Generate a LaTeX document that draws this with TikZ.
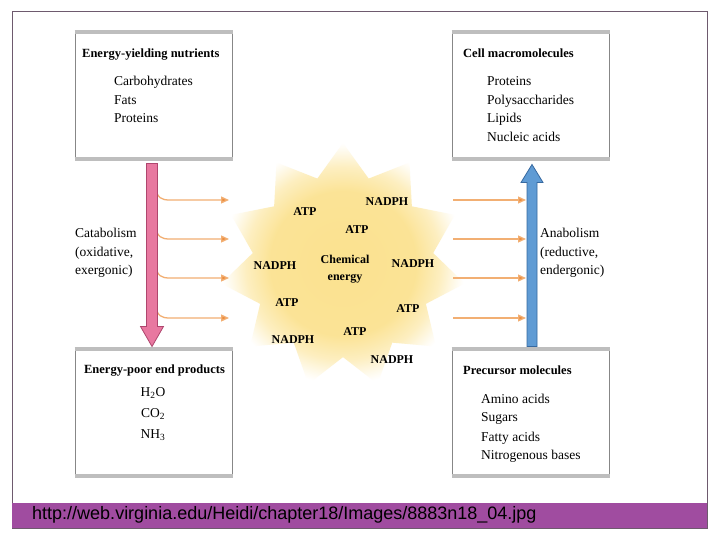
\documentclass[tikz,border=0pt]{standalone}
\usepackage{fontspec}
\setmainfont{Liberation Serif}
\newfontfamily\urlfont{Liberation Sans}
\usetikzlibrary{shapes.geometric,arrows.meta,calc}
\definecolor{purplebar}{RGB}{160,76,160}
\definecolor{framecol}{RGB}{110,90,110}
\definecolor{boxedge}{RGB}{190,190,190}
\definecolor{boxside}{RGB}{135,135,135}
\definecolor{catfill}{RGB}{232,120,160}
\definecolor{catedge}{RGB}{175,70,110}
\definecolor{anafill}{RGB}{95,155,212}
\definecolor{anaedge}{RGB}{55,105,160}
\definecolor{orangearr}{RGB}{242,175,115}
\definecolor{orangehead}{RGB}{236,140,60}
\definecolor{staryellow}{RGB}{250,218,115}
\pgfdeclareradialshading{burst}{\pgfpoint{0bp}{0bp}}{color(0bp)=(staryellow!80); color(15bp)=(staryellow!75); color(20bp)=(staryellow!45); color(23.5bp)=(staryellow!12); color(25bp)=(white); color(50bp)=(white)}
\begin{document}
\begin{tikzpicture}[x=1pt,y=-1pt,
  box/.style={draw=boxside, line width=1pt, fill=white, minimum width=157pt, minimum height=126pt, inner sep=0pt},
  boxrim/.style={draw=boxedge, line width=4pt},
  ttl/.style={font=\fontsize{12.5}{15}\selectfont\bfseries, inner sep=0pt},
  itm/.style={font=\fontsize{13.5}{16}\selectfont, anchor=base west, inner sep=0pt},
  startxt/.style={font=\fontsize{12}{17}\selectfont\bfseries, inner sep=0pt, align=center},
  side/.style={font=\fontsize{13.5}{18.5}\selectfont, align=left, anchor=west, inner sep=0pt},
  orarrow/.style={draw=orangearr, line width=1.3pt, -{Triangle[length=8pt,width=7pt,fill=orangehead]}},
]
\useasboundingbox (0,0) rectangle (720,540);
\fill[white] (0,0) rectangle (720,540);
\draw[framecol, line width=1pt] (12,12) rectangle (707,528);
\fill[purplebar] (12,503) rectangle (707,528);
\node[font=\urlfont\fontsize{18}{20}\selectfont, anchor=west, inner sep=0pt] (url) at (32,515) {http://web.virginia.edu/Heidi/chapter18/Images/8883n18\_04.jpg};

% star burst
\node[star, star points=11, star point ratio=1.35, minimum size=246pt, inner sep=0pt, shading=burst] (star) at (343,266) {};
\node[startxt] (s1) at (305,212) {ATP};
\node[startxt] (s2) at (387,202) {NADPH};
\node[startxt] (s3) at (357,230) {ATP};
\node[startxt] (s4) at (275,266) {NADPH};
\node[startxt] (s5) at (345,269) {Chemical\\energy};
\node[startxt] (s6) at (413,264) {NADPH};
\node[startxt] (s7) at (287,303) {ATP};
\node[startxt] (s8) at (408,309) {ATP};
\node[startxt] (s9) at (293,340) {NADPH};
\node[startxt] (s10) at (355,332) {ATP};
\node[startxt] (s11) at (392,360) {NADPH};

% boxes
\node[box] (tl) at (153.5,96) {};
\node[box] (tr) at (530.5,96) {};
\node[box] (bl) at (153.5,412) {};
\node[box] (br) at (530.5,412) {};
\foreach \b in {tl,tr,bl,br} {
  \draw[boxrim] (\b.north west) -- (\b.north east);
  \draw[boxrim] (\b.south west) -- (\b.south east);
}

\node[ttl, anchor=base west] (tlt) at (82,58) {Energy-yielding nutrients};
\node[itm] (tl1) at (114,85.5) {Carbohydrates};
\node[itm] (tl2) at (114,104.5) {Fats};
\node[itm] (tl3) at (114,122.5) {Proteins};

\node[ttl, anchor=base west] (trt) at (463,58) {Cell macromolecules};
\node[itm] (tr1) at (487,85.5) {Proteins};
\node[itm] (tr2) at (487,104.5) {Polysaccharides};
\node[itm] (tr3) at (487,122.5) {Lipids};
\node[itm] (tr4) at (487,141.5) {Nucleic acids};

\node[ttl, anchor=base] (blt) at (154.5,373.5) {Energy-poor end products};
\node[itm, anchor=base] (bl1) at (153,396.5) {H\textsubscript{2}O};
\node[itm, anchor=base] (bl2) at (153,417.5) {CO\textsubscript{2}};
\node[itm, anchor=base] (bl3) at (153,438.5) {NH\textsubscript{3}};

\node[ttl, anchor=base west] (brt) at (463,374.5) {Precursor molecules};
\node[itm] (br1) at (481,403) {Amino acids};
\node[itm] (br2) at (481,421.5) {Sugars};
\node[itm] (br3) at (481,441) {Fatty acids};
\node[itm] (br4) at (481,459.5) {Nitrogenous bases};

% side labels
\node[side] (cat) at (75,253) {Catabolism\\(oxidative,\\exergonic)};
\node[side] (ana) at (540,253) {Anabolism\\(reductive,\\endergonic)};

% orange energy arrows
\foreach \y [count=\i] in {200,239,278,318} {
  \coordinate (la\i) at (155,\y-12);
  \coordinate (lb\i) at (229,\y);
  \draw[orarrow] (la\i) .. controls (158,\y-2) and (161,\y) .. (170,\y) -- (lb\i);
  \coordinate (ra\i) at (453,\y);
  \coordinate (rb\i) at (526,\y);
  \draw[orarrow] (ra\i) -- (rb\i);
}

% catabolism arrow
\coordinate (ps) at ($(tl.south)+(-1.5,4)$);
\coordinate (pe) at ($(bl.north)+(-1.5,-2)$);
\draw[catedge, fill=catfill, line width=0.8pt, line join=miter]
  ($(ps)+(-5.5,0)$) -- ($(ps)+(5.5,0)$) -- ($(pe)+(5.5,-20)$) -- ($(pe)+(11.5,-20)$)
  -- (pe) -- ($(pe)+(-11.5,-20)$) -- ($(pe)+(-5.5,-20)$) -- cycle;

% anabolism arrow
\coordinate (bs) at ($(tr.south)+(1.5,5)$);
\coordinate (be) at ($(br.north)+(1.5,-2)$);
\draw[anaedge, fill=anafill, line width=0.8pt, line join=miter]
  ($(be)+(-5,0)$) -- ($(be)+(5,0)$) -- ($(bs)+(5,18)$) -- ($(bs)+(11,18)$)
  -- (bs) -- ($(bs)+(-11,18)$) -- ($(bs)+(-5,18)$) -- cycle;
\end{tikzpicture}
\end{document}
